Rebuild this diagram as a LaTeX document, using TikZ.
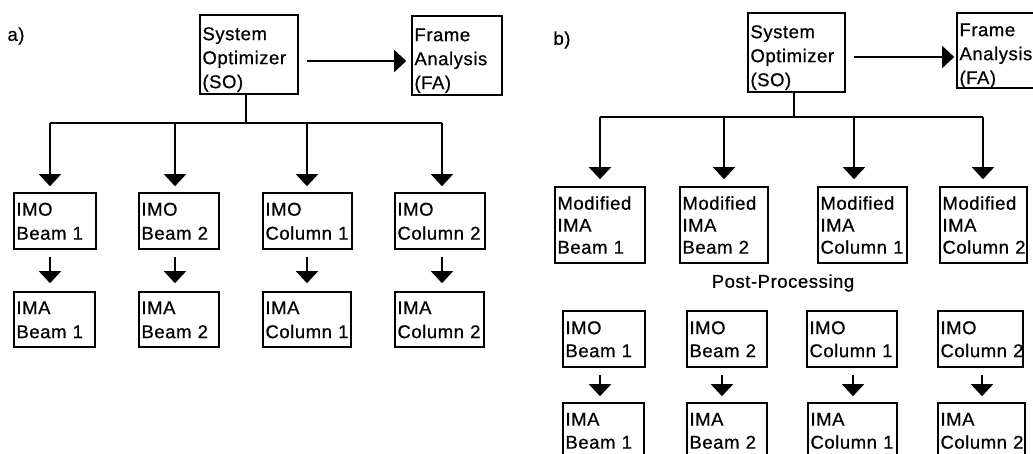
\documentclass[tikz,border=0pt]{standalone}
\usepackage{fontspec}
\setmainfont{Liberation Sans}[LetterSpace=3,FakeBold=0.6]
\usetikzlibrary{arrows.meta}
\newcommand\mybox[7]{%
  \pgfmathsetmacro\bxcx{(#2+#4)/2}\pgfmathsetmacro\bxcy{(#3+#5)/2}%
  \pgfmathsetmacro\bxw{#4-#2}\pgfmathsetmacro\bxh{#5-#3}\pgfmathsetmacro\bxtw{#4-#2-5}%
  \node[box,#6,minimum width=\bxw pt,minimum height=\bxh pt,text width=\bxtw pt] (#1) at (\bxcx,\bxcy) {#7};}
\tikzset{
  box/.style={draw, line width=1.6pt, rectangle, align=left, inner xsep=2pt, inner ysep=0pt,
    text height=13.3pt},
  twoA/.style={font=\fontsize{18.5}{24}\selectfont, text depth=24pt},
  threeA/.style={font=\fontsize{18.5}{24}\selectfont, text height=19.3pt, text depth=48pt},
  threeB/.style={font=\fontsize{18.5}{22}\selectfont, text depth=44pt},
  twoB/.style={font=\fontsize{18.5}{23}\selectfont, text depth=23pt},
  ln/.style={line width=1.5pt},
  arr/.style={line width=1.5pt, -{Triangle[width=22pt,length=12pt]}},
  lbl/.style={font=\fontsize{18.5}{22}\selectfont, inner sep=0pt}
}
\begin{document}
\begin{tikzpicture}[x=1pt,y=-1pt]
\useasboundingbox (0,0) rectangle (1033,453);
\clip (0,0) rectangle (1033,453);
% ---------------- panel a
\node[lbl] (la) at (16,36) {a)};
\mybox{SOa}{200}{15}{298}{94}{threeA}{System\\Optimizer\\(SO)}
\mybox{FAa}{412}{16}{502}{95}{threeA}{Frame\\Analysis\\(FA)}
\mybox{IMOa1}{14}{193}{96}{249}{twoA}{IMO\\Beam~1}
\mybox{IMOa2}{139}{193}{219}{249}{twoA}{IMO\\Beam~2}
\mybox{IMOa3}{263}{193}{352}{249}{twoA}{IMO\\Column~1}
\mybox{IMOa4}{395}{193}{485}{249}{twoA}{IMO\\Column~2}
\mybox{IMAa1}{14}{292}{95}{347}{twoA}{IMA\\Beam~1}
\mybox{IMAa2}{139}{292}{219}{347}{twoA}{IMA\\Beam~2}
\mybox{IMAa3}{263}{292}{351}{347}{twoA}{IMA\\Column~1}
\mybox{IMAa4}{395}{292}{484}{347}{twoA}{IMA\\Column~2}
\draw[arr] ([shift={(8pt,-6.5pt)}]SOa.east) -- ([shift={(-5pt,-6.5pt)}]SOa.east -| FAa.west);
\coordinate (ja) at (246,123);
\coordinate (ta1) at (50,123);
\coordinate (ta2) at (175,123);
\coordinate (ta3) at (307,123);
\coordinate (ta4) at (442,123);
\draw[ln] (ja |- SOa.south) -- (ja);
\draw[ln] (ta1) -- (ta4);
\foreach \i in {1,2,3,4}{
  \draw[arr] (ta\i) -- ([yshift=6pt]IMOa\i.north -| ta\i);
  \draw[arr] ([yshift=-7pt]IMOa\i.south -| ta\i) -- ([yshift=8pt]IMAa\i.north -| ta\i);
}
% ---------------- panel b
\node[lbl] (lb) at (562,40) {b)};
\mybox{SOb}{748}{13}{845}{92}{threeA}{System\\Optimizer\\(SO)}
\mybox{FAb}{957}{13}{1045}{88}{threeA}{Frame\\Analysis\\(FA)}
\mybox{MODb1}{555}{187}{645}{263}{threeB}{Modified\\IMA\\Beam~1}
\mybox{MODb2}{680}{187}{768}{263}{threeB}{Modified\\IMA\\Beam~2}
\mybox{MODb3}{818}{187}{907}{263}{threeB}{Modified\\IMA\\Column~1}
\mybox{MODb4}{940}{187}{1027}{263}{threeB}{Modified\\IMA\\Column~2}
\node[lbl] (pp) at (783,283) {Post-Processing};
\mybox{IMOb1}{563}{311}{645}{367}{twoB}{IMO\\Beam~1}
\mybox{IMOb2}{687}{311}{767}{367}{twoB}{IMO\\Beam~2}
\mybox{IMOb3}{807}{311}{897}{367}{twoB}{IMO\\Column~1}
\mybox{IMOb4}{938}{311}{1023}{367}{twoB}{IMO\\Column~2}
\mybox{IMAb1}{563}{403}{644}{458}{twoB}{IMA\\Beam~1}
\mybox{IMAb2}{687}{403}{767}{458}{twoB}{IMA\\Beam~2}
\mybox{IMAb3}{808}{403}{897}{458}{twoB}{IMA\\Column~1}
\mybox{IMAb4}{938}{403}{1025}{458}{twoB}{IMA\\Column~2}
\draw[arr] ([shift={(8pt,-4.5pt)}]SOb.east) -- ([shift={(-2pt,-4.5pt)}]SOb.east -| FAb.west);
\coordinate (jb) at (794,117);
\coordinate (tb1) at (600,117);
\coordinate (tb2) at (724,117);
\coordinate (tb3) at (854,117);
\coordinate (tb4) at (983,117);
\coordinate (ub1) at (600,375);
\coordinate (ub2) at (722,375);
\coordinate (ub3) at (853,375);
\coordinate (ub4) at (982,375);
\draw[ln] (jb |- SOb.south) -- (jb);
\draw[ln] (tb1) -- (tb4);
\foreach \i in {1,2,3,4}{
  \draw[arr] (tb\i) -- ([yshift=7pt]MODb\i.north -| tb\i);
  \draw[arr] (ub\i) -- ([yshift=6pt]IMAb\i.north -| ub\i);
}
\end{tikzpicture}
\end{document}
